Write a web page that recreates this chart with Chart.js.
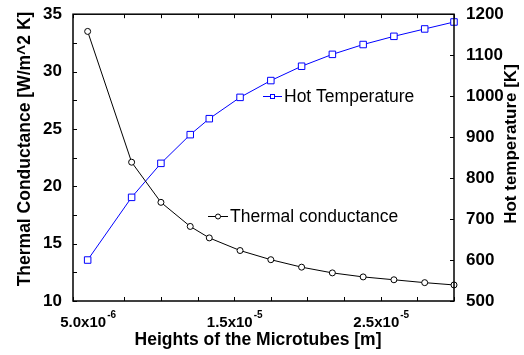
<!DOCTYPE html>
<html>
<head>
<meta charset="utf-8">
<script src="https://cdn.jsdelivr.net/npm/chart.js@4"></script>
<style>
  html, body { margin: 0; padding: 0; background: #fff; }
  canvas { display: block; }
</style>
</head>
<body>
<canvas id="chart" width="524" height="355"></canvas>
<script>
// Microtube height sweep: conductance (left axis) and hot side temperature (right axis)

const heights = [5.0e-6, 8.0e-6, 1.0e-5, 1.2e-5, 1.33e-5, 1.54e-5, 1.75e-5, 1.96e-5, 2.17e-5, 2.38e-5, 2.59e-5, 2.8e-5, 3.0e-5];
const conductance = [33.5, 22.1, 18.6, 16.5, 15.5, 14.4, 13.6, 12.95, 12.45, 12.1, 11.85, 11.6, 11.4];
const hotTemperature = [600, 753, 836, 906, 945, 997, 1038, 1073, 1102, 1126, 1146, 1164, 1181];

const xLabelValues = [5e-6, 1.5e-5, 2.5e-5];
const xLabelMantissa = ['5.0', '1.5', '2.5'];
const xLabelExponent = ['-6', '-5', '-5'];

const FONT = '"Liberation Sans", Arial, sans-serif';

// frame, inward ticks, x labels with superscript, titles and the two loose legends
const decorPlugin = {
  id: 'decor',
  afterDraw(chart) {
    const ctx = chart.ctx;
    const area = chart.chartArea;
    const x = chart.scales.x, y = chart.scales.y, y2 = chart.scales.y2;
    const tickLen = 4;

    ctx.save();
    ctx.strokeStyle = '#000';
    ctx.lineWidth = 1;
    ctx.beginPath();
    x.ticks.forEach(t => {
      const px = Math.round(x.getPixelForValue(t.value)) + 0.5;
      ctx.moveTo(px, area.bottom); ctx.lineTo(px, area.bottom - tickLen);
      ctx.moveTo(px, area.top); ctx.lineTo(px, area.top + tickLen);
    });
    y.ticks.forEach(t => {
      const py = Math.round(y.getPixelForValue(t.value)) + 0.5;
      ctx.moveTo(area.left, py); ctx.lineTo(area.left + tickLen, py);
    });
    y2.ticks.forEach(t => {
      const py = Math.round(y2.getPixelForValue(t.value)) + 0.5;
      ctx.moveTo(area.right, py); ctx.lineTo(area.right - tickLen, py);
    });
    ctx.stroke();

    ctx.lineWidth = 1.5;
    ctx.strokeRect(area.left, area.top, area.right - area.left, area.bottom - area.top);

    // x tick labels: mantissa x 10 with raised exponent
    ctx.fillStyle = '#000';
    ctx.textBaseline = 'alphabetic';
    ctx.textAlign = 'left';
    xLabelValues.forEach((v, i) => {
      const main = xLabelMantissa[i] + 'x10';
      ctx.font = 'bold 15px ' + FONT;
      const wMain = ctx.measureText(main).width;
      ctx.font = 'bold 10px ' + FONT;
      const wExp = ctx.measureText(xLabelExponent[i]).width;
      const left = x.getPixelForValue(v) - (wMain + wExp) / 2;
      ctx.font = 'bold 15px ' + FONT;
      ctx.fillText(main, left, 327);
      ctx.font = 'bold 10px ' + FONT;
      ctx.fillText(xLabelExponent[i], left + wMain + 1, 318);
    });

    // axis titles
    ctx.font = 'bold 17.5px ' + FONT;
    ctx.textAlign = 'center';
    ctx.textBaseline = 'middle';
    ctx.fillText('Heights of the Microtubes [m]', 258, 340);

    ctx.save();
    ctx.translate(25, 149);
    ctx.rotate(-Math.PI / 2);
    ctx.fillText('Thermal Conductance [W/m^2 K]', 0, 0);
    ctx.restore();

    ctx.font = 'bold 17px ' + FONT;
    ctx.save();
    ctx.translate(511, 144);
    ctx.rotate(-Math.PI / 2);
    ctx.fillText('Hot temperature [K]', 0, 0);
    ctx.restore();

    // legends
    ctx.font = '17.5px ' + FONT;
    ctx.textAlign = 'left';
    ctx.lineWidth = 1;

    ctx.strokeStyle = '#0000ff';
    ctx.beginPath();
    ctx.moveTo(263, 96.5); ctx.lineTo(282, 96.5);
    ctx.stroke();
    ctx.fillStyle = '#fff';
    ctx.fillRect(270, 94, 5, 5);
    ctx.strokeRect(270.5, 94.5, 4, 4);
    ctx.fillStyle = '#000';
    ctx.fillText('Hot Temperature', 284, 97);

    ctx.strokeStyle = '#000';
    ctx.beginPath();
    ctx.moveTo(208, 216.5); ctx.lineTo(228, 216.5);
    ctx.stroke();
    ctx.beginPath();
    ctx.arc(218, 216.5, 2.5, 0, Math.PI * 2);
    ctx.fillStyle = '#fff';
    ctx.fill();
    ctx.stroke();
    ctx.fillStyle = '#000';
    ctx.fillText('Thermal conductance', 230, 217);

    ctx.restore();
  }
};

const ctx = document.getElementById('chart').getContext('2d');

new Chart(ctx, {
  type: 'line',
  data: {
    datasets: [
      {
        label: 'Thermal conductance',
        data: heights.map((h, i) => ({ x: h, y: conductance[i] })),
        yAxisID: 'y',
        borderColor: '#000',
        borderWidth: 1,
        pointStyle: 'circle',
        pointRadius: 3,
        pointBorderWidth: 1,
        pointBorderColor: '#000',
        pointBackgroundColor: '#fff',
        tension: 0,
        clip: false
      },
      {
        label: 'Hot Temperature',
        data: heights.map((h, i) => ({ x: h, y: hotTemperature[i] })),
        yAxisID: 'y2',
        borderColor: '#0000ff',
        borderWidth: 1,
        pointStyle: 'rect',
        pointRadius: 4.6,
        pointBorderWidth: 1,
        pointBorderColor: '#0000ff',
        pointBackgroundColor: '#fff',
        tension: 0,
        clip: false
      }
    ]
  },
  options: {
    responsive: false,
    animation: false,
    layout: { padding: { top: 12, left: 0, right: 0, bottom: 0 } },
    plugins: {
      legend: { display: false },
      tooltip: { enabled: false }
    },
    scales: {
      x: {
        type: 'linear',
        min: 4e-6,
        max: 3e-5,
        grid: { display: false },
        border: { display: false },
        ticks: { stepSize: 2.5e-6, display: false },
        afterFit: s => { s.height = 54; }
      },
      y: {
        position: 'left',
        min: 10,
        max: 35,
        grid: { display: false },
        border: { display: false },
        ticks: {
          stepSize: 2.5,
          padding: 3,
          color: '#000',
          font: { family: FONT, size: 17, weight: 'bold' },
          callback: v => (v % 5 === 0 ? v : '')
        },
        afterFit: s => { s.width = 73; }
      },
      y2: {
        position: 'right',
        min: 500,
        max: 1200,
        grid: { display: false },
        border: { display: false },
        ticks: {
          stepSize: 50,
          padding: 4,
          color: '#000',
          font: { family: FONT, size: 17, weight: 'bold' },
          callback: v => (v % 100 === 0 ? v : '')
        },
        afterFit: s => { s.width = 70; }
      }
    }
  },
  plugins: [decorPlugin]
});
</script>
</body>
</html>
